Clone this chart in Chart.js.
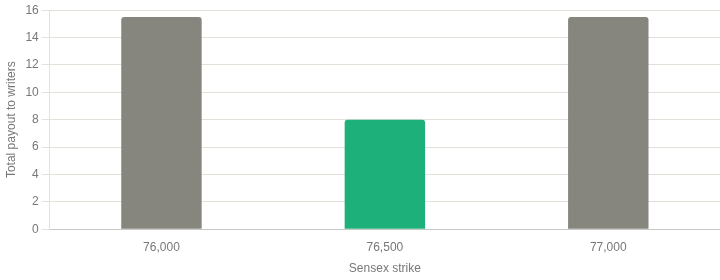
<!DOCTYPE html>
<html>
<head>
<meta charset="utf-8">
<script src="https://cdn.jsdelivr.net/npm/chart.js@4/dist/chart.umd.min.js"></script>
<style>
  html, body { margin: 0; padding: 0; background: #fff; }
  #wrap { width: 720px; height: 280px; position: relative; }
</style>
</head>
<body>
<div id="wrap"><canvas id="payoutChart"></canvas></div>
<script>
// strikes and the total payout to option writers at each one
var strikes = ["76,000", "76,500", "77,000"];
var payouts = [15.5, 8, 15.5];
var barColors = ["#87867e", "#1db07a", "#87867e"];

Chart.defaults.font.family = "'Liberation Sans', Arial, sans-serif";
Chart.defaults.font.size = 12;
Chart.defaults.color = "#777";

new Chart(document.getElementById("payoutChart"), {
  type: "bar",
  data: {
    labels: strikes,
    datasets: [
      {
        label: "Payout",
        data: payouts,
        backgroundColor: barColors,
        borderRadius: { topLeft: 3, topRight: 3 },
        borderSkipped: false,
        barPercentage: 0.36,
        categoryPercentage: 1,
      },
    ],
  },
  options: {
    responsive: true,
    maintainAspectRatio: false,
    animation: false,
    layout: { padding: { top: 4, right: 0, bottom: 4, left: 4 } },
    plugins: {
      legend: { display: false },
      tooltip: { enabled: false },
    },
    scales: {
      x: {
        grid: { display: false },
        border: { color: "#c8c8c4" },
        ticks: { color: "#777" },
        title: { display: true, text: "Sensex strike", color: "#777", padding: { top: 4, bottom: 0 } },
      },
      y: {
        min: 0,
        max: 16,
        grid: { color: "#e2e1da" },
        border: { color: "#e2e1da" },
        ticks: { stepSize: 2, color: "#777" },
        title: { display: true, text: "Total payout to writers", color: "#777", padding: { top: 0, bottom: 4 } },
      },
    },
  },
});
</script>
</body>
</html>
